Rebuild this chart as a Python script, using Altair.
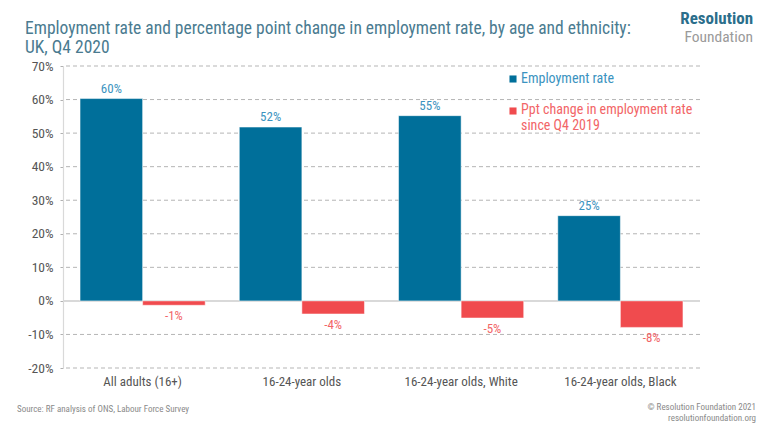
import altair as alt
import pandas as pd

categories = ["All adults (16+)", "16-24-year olds", "16-24-year olds, White", "16-24-year olds, Black"]
employment_rate = [60.3, 51.8, 55.2, 25.4]
ppt_change = [-1.3, -3.9, -5.1, -7.9]
rate_labels = ["60%", "52%", "55%", "25%"]
change_labels = ["-1%", "-4%", "-5%", "-8%"]
series = ["Employment rate", "Ppt change in employment rate since Q4 2019"]
bar_colors = ["#006f9a", "#f04b4e"]
label_colors = ["#3b93c0", "#f26567"]
y_ticks = [-20, -10, 0, 10, 20, 30, 40, 50, 60, 70]

FONT = "Liberation Sans Narrow, Roboto Condensed, Arial Narrow, Roboto, sans-serif"

rows = []
for c, v, l in zip(categories, employment_rate, rate_labels):
    rows.append({"cat": c, "series": series[0], "value": v, "label": l})
for c, v, l in zip(categories, ppt_change, change_labels):
    rows.append({"cat": c, "series": series[1], "value": v, "label": l})
df = pd.DataFrame(rows)

x_enc = alt.X("cat:N", sort=categories, title=None,
              scale=alt.Scale(paddingInner=0.214, paddingOuter=0.107),
              axis=alt.Axis(labelAngle=0, domain=False, ticks=False, grid=False, labelPadding=7,
                            labelFontSize=13, labelColor="#555555", labelFont=FONT))
xo_enc = alt.XOffset("series:N", sort=series, scale=alt.Scale(paddingInner=0, paddingOuter=0))
y_enc = alt.Y("value:Q", title=None,
              scale=alt.Scale(domain=[-20, 70], nice=False),
              axis=alt.Axis(values=y_ticks, labelOverlap=False,
                            labelExpr="datum.value + '%'", grid=False,
                            domain=True, domainColor="#d9d9d9", domainWidth=1.2,
                            ticks=True, tickSize=3, tickColor="#b0b0b0",
                            labelPadding=7, labelFontSize=13.5, labelColor="#555555", labelFont=FONT))

base = alt.Chart(df)

grid = alt.Chart(pd.DataFrame({"value": y_ticks})).mark_rule(
    color="#b5b5b5", strokeWidth=1, strokeDash=[4, 3]
).encode(y=y_enc)

zero = alt.Chart(pd.DataFrame({"value": [0]})).mark_rule(color="#d9d9d9", strokeWidth=2).encode(y=y_enc)

bars = base.mark_bar(stroke="white", strokeWidth=0.5).encode(
    x=x_enc, xOffset=xo_enc, y=y_enc,
    color=alt.Color("series:N", scale=alt.Scale(domain=series, range=bar_colors), legend=None),
)

pos_labels = base.transform_filter(alt.datum.series == series[0]).mark_text(
    baseline="bottom", dy=-3, fontSize=13, font=FONT, color=label_colors[0]
).encode(x=x_enc, xOffset=xo_enc, y=y_enc, text="label:N")

neg_labels = base.transform_filter(alt.datum.series == series[1]).mark_text(
    baseline="top", dy=5, fontSize=13, font=FONT, color=label_colors[1]
).encode(x=x_enc, xOffset=xo_enc, y=y_enc, text="label:N")

ann = pd.DataFrame({"k": [0]})

def txt(text, x, y, size, color, align="left", baseline="middle", weight="normal", lh=None):
    kw = dict(align=align, baseline=baseline, fontSize=size, font=FONT, color=color, fontWeight=weight)
    if lh:
        kw["lineHeight"] = lh
    return alt.Chart(ann).mark_text(**kw).encode(x=alt.value(x), y=alt.value(y), text=alt.value(text))

def sq(x, y, color):
    return alt.Chart(ann).mark_square(size=50, color=color, opacity=1).encode(x=alt.value(x), y=alt.value(y))

legend = (
    sq(450, 13, bar_colors[0])
    + txt(series[0], 458, 13, 14, label_colors[0])
    + sq(450, 45, bar_colors[1])
    + txt(["Ppt change in employment rate", "since Q4 2019"], 458, 37, 14, label_colors[1], baseline="top", lh=16)
)

title = txt(["Employment rate and percentage point change in employment rate, by age and ethnicity:",
             "UK, Q4 2020"], -38, -46, 17.5, "#4a7b90", baseline="top", lh=18.5)
logo = (txt("Resolution", 690, -47, 17, "#2b6e8b", align="right", weight="bold")
        + txt("Foundation", 690, -29, 15.5, "#9a9a9a", align="right"))
footer = (txt("Source: RF analysis of ONS, Labour Force Survey", -46, 343, 9, "#8a8a8a")
          + txt("© Resolution Foundation 2021", 693, 341, 9, "#8a8a8a", align="right")
          + txt("resolutionfoundation.org", 693, 352, 9, "#8a8a8a", align="right"))

chart = alt.layer(grid, zero, bars, pos_labels, neg_labels, legend, title, logo, footer).properties(
    width=637, height=302,
    autosize=alt.AutoSizeParams(type="none"),
    padding={"left": 55, "top": 58, "right": 60, "bottom": 56},
    background="white",
).configure(font=FONT, view=alt.ViewConfig(stroke="transparent", strokeWidth=0))

chart.save("out.html", embed_options={"renderer": "svg", "actions": False})
